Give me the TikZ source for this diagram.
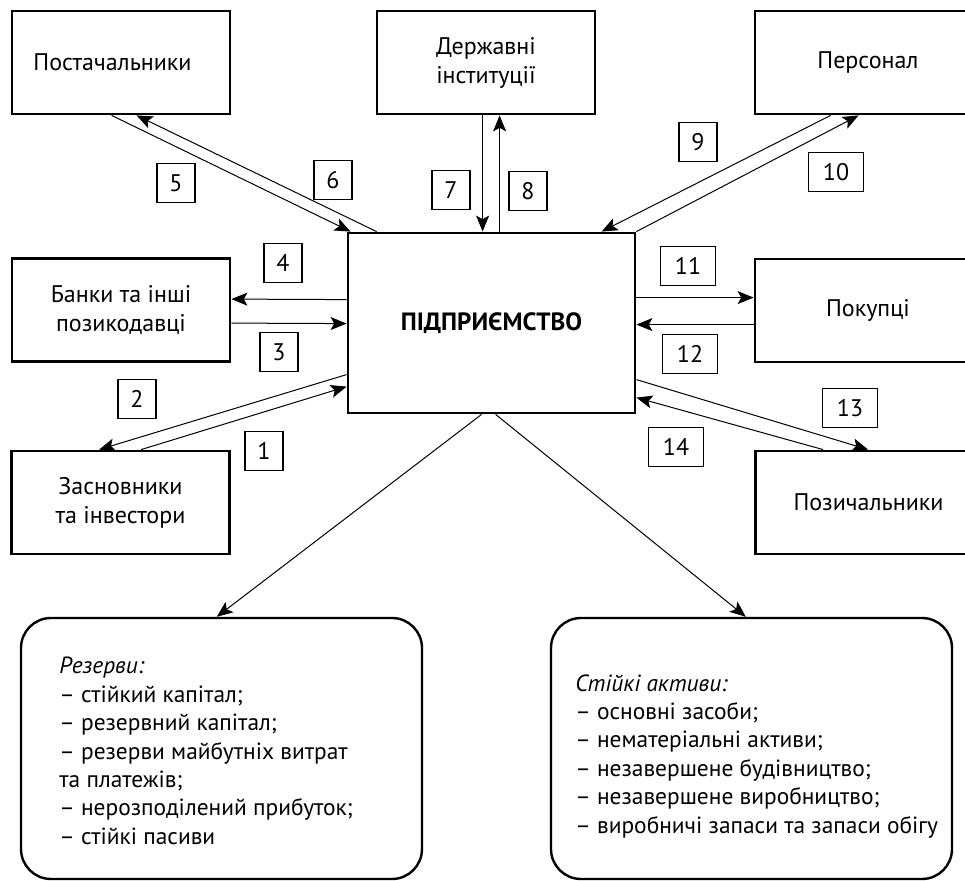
\documentclass[tikz,border=0pt]{standalone}
\usepackage{fontspec}
\setmainfont{PT Sans}
\usetikzlibrary{arrows.meta}
\begin{document}
\begin{tikzpicture}[x=0.5pt,y=-0.5pt,
  ent/.style={draw, line width=1.4pt, minimum width=109pt, minimum height=51.5pt,
    align=center, inner sep=0pt, font=\fontsize{12}{14.5}\selectfont},
  entw/.style={ent, minimum width=113pt},
  core/.style={draw, line width=1.4pt, minimum width=143.5pt, minimum height=90pt,
    inner sep=0pt, font=\bfseries\fontsize{12.5}{15}\selectfont},
  rbox/.style={draw, line width=1.2pt, rounded corners=15pt, minimum width=200.5pt,
    minimum height=130.5pt, inner sep=0pt},
  listtxt/.style={align=left, inner sep=0pt, font=\fontsize{11.7}{14.2}\selectfont},
  num/.style={draw, line width=0.9pt, minimum width=19pt, minimum height=19.5pt,
    inner sep=0pt, font=\fontsize{12}{14}\selectfont},
  numw/.style={num, minimum width=27.5pt},
  conn/.style={line width=0.5pt, -{Stealth[length=8pt,width=6.5pt,inset=1.8pt]}}
]
\useasboundingbox (0,0) rectangle (965,881);
\clip (0,0) rectangle (965,881);

% entity boxes
\node[ent] (post) at (121,62.5) {Постачальники\hspace*{8.5pt}};
\node[ent] (derzh) at (486,62.5) {Державні\\інституції};
\node[entw] (pers) at (868,62.5) {Персонал};
\node[ent] (bank) at (121,310) {Банки та інші\\позикодавці};
\node[ent] (zasn) at (120.5,502.5) {Засновники\\та інвестори};
\node[entw] (pok) at (868,310.5) {Покупці};
\node[entw] (poz) at (868.5,502.5) {Позичальники};
\node[core] (pidp) at (491.5,323) {ПІДПРИЄМСТВО};

% rounded boxes
\node[rbox] (rez) at (221.5,748.5) {};
\node[rbox] (akt) at (751.5,748.5) {};
\node[listtxt, anchor=north west] (reztxt) at (59,657) {\textit{Резерви:}\\
– стійкий капітал;\\
– резервний капітал;\\
– резерви майбутніх витрат\\
та платежів;\\
– нерозподілений прибуток;\\
– стійкі пасиви};
\node[listtxt, anchor=north west] (akttxt) at (575,674) {\textit{Стійкі активи:}\\
– основні засоби;\\
– нематеріальні активи;\\
– незавершене будівництво;\\
– незавершене виробництво;\\
– виробничі запаси та запаси обігу};

% number labels
\node[num] (n1) at (264,451) {1};
\node[num] (n2) at (137,399) {2};
\node[num] (n3) at (279,352) {3};
\node[num] (n4) at (283,263) {4};
\node[num] (n5) at (176,183) {5};
\node[num] (n6) at (333,180) {6};
\node[num] (n7) at (451,190) {7};
\node[num] (n8) at (528,191) {8};
\node[num] (n9) at (698,142) {9};
\node[numw] (n10) at (836,172) {10};
\node[numw] (n11) at (688,266) {11};
\node[numw] (n12) at (690,354) {12};
\node[numw] (n13) at (850,408) {13};
\node[numw] (n14) at (676,447) {14};

% connectors
% 5, 6: suppliers
\draw[conn] ([xshift=50.5pt]post.south west) -- ([xshift=2pt]pidp.north west);
\draw[conn] ([xshift=15pt]pidp.north west) -- ([xshift=63pt]post.south west);
% 7, 8: state institutions
\draw[conn] ([xshift=53.5pt]derzh.south west) -- ([xshift=68pt]pidp.north west);
\draw[conn] ([xshift=76.5pt]pidp.north west) -- ([xshift=62pt]derzh.south west);
% 9, 10: personnel
\draw[conn] ([xshift=38.5pt]pers.south west) -- ([xshift=127.5pt]pidp.north west);
\draw[conn] (pidp.north east) -- ([xshift=52.5pt]pers.south west);
% 4, 3: banks
\draw[conn] ([yshift=-34pt]pidp.north west) -- ([yshift=-21pt]bank.north east);
\draw[conn] ([yshift=-33pt]bank.north east) -- ([yshift=-46pt]pidp.north west);
% 2, 1: founders
\draw[conn] ([yshift=-71.5pt]pidp.north west) -- ([xshift=44.5pt]zasn.north west);
\draw[conn] ([xshift=65.5pt]zasn.north west) -- ([yshift=-77.5pt]pidp.north west);
% 11, 12: buyers
\draw[conn] ([yshift=-33pt]pidp.north east) -- ([yshift=-20pt]pok.north west);
\draw[conn] ([yshift=-33.5pt]pok.north west) -- ([yshift=-46.5pt]pidp.north east);
% 13, 14: borrowers
\draw[conn] ([yshift=-74pt]pidp.north east) -- ([xshift=57pt]poz.north west);
\draw[conn] ([xshift=34.5pt]poz.north west) -- ([yshift=-83pt]pidp.north east);
% down
\draw[conn] ([xshift=67.5pt]pidp.south west) -- ([xshift=98.5pt]rez.north west);
\draw[conn] ([xshift=74.5pt]pidp.south west) -- ([xshift=98pt]akt.north west);
\end{tikzpicture}
\end{document}
